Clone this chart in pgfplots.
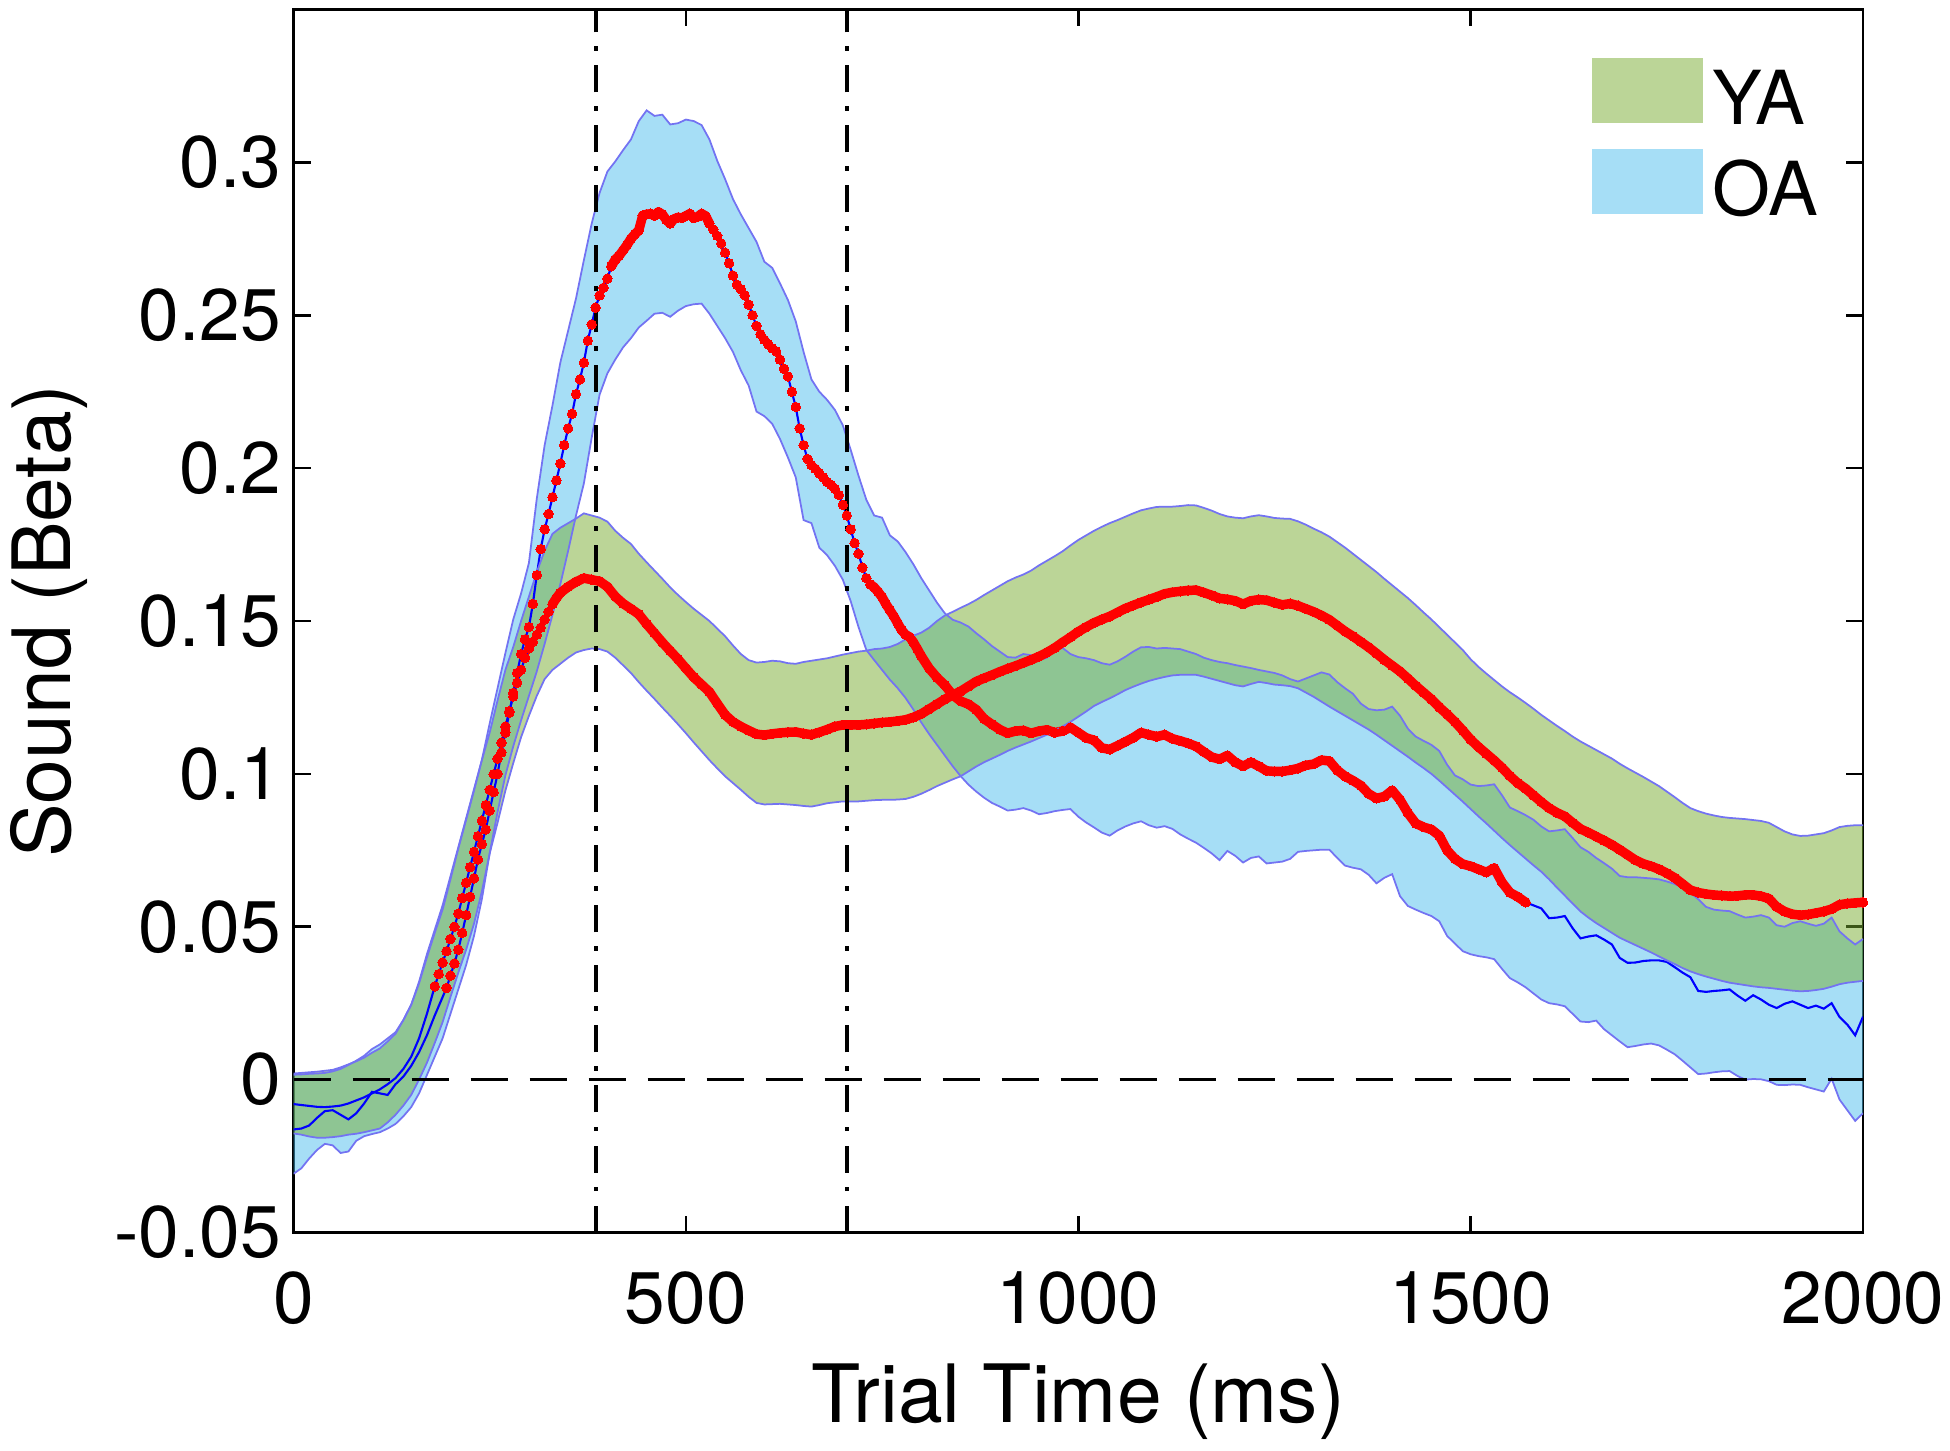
\documentclass[border=0pt]{standalone}
\usepackage{fontspec}
\setmainfont{TeX Gyre Heros}
\usepackage{pgfplots}
\usepackage{pgfplotstable}
\usepgfplotslibrary{fillbetween}
\pgfplotsset{compat=1.18}
\definecolor{yagreen}{rgb}{0.466,0.674,0.188}
\definecolor{oablue}{rgb}{0.301,0.745,0.933}
\definecolor{edgeblue}{RGB}{115,115,242}

\pgfplotstableread{
t yaL yaU oaL oaU
0 -0.0176 0.0020 -0.0308 0.0016
10 -0.0180 0.0022 -0.0290 0.0017
20 -0.0186 0.0024 -0.0258 0.0019
30 -0.0190 0.0026 -0.0230 0.0020
40 -0.0190 0.0029 -0.0210 0.0022
50 -0.0188 0.0032 -0.0215 0.0027
60 -0.0185 0.0040 -0.0240 0.0035
70 -0.0180 0.0050 -0.0235 0.0048
80 -0.0177 0.0060 -0.0200 0.0062
90 -0.0172 0.0072 -0.0185 0.0078
100 -0.0166 0.0088 -0.0178 0.0100
110 -0.0160 0.0102 -0.0172 0.0115
120 -0.0140 0.0125 -0.0160 0.0135
130 -0.0115 0.0150 -0.0145 0.0155
140 -0.0085 0.0195 -0.0120 0.0195
150 -0.0050 0.0245 -0.0090 0.0245
160 0.0000 0.0320 -0.0045 0.0315
170 0.0055 0.0410 0.0015 0.0400
180 0.0120 0.0490 0.0075 0.0480
190 0.0188 0.0570 0.0135 0.0556
200 0.0270 0.0665 0.0215 0.0655
210 0.0350 0.0760 0.0295 0.0756
220 0.0425 0.0855 0.0375 0.0850
230 0.0510 0.0950 0.0470 0.0945
240 0.0615 0.1045 0.0590 0.1045
250 0.0740 0.1135 0.0740 0.1165
260 0.0840 0.1240 0.0875 0.1280
270 0.0945 0.1340 0.0995 0.1395
280 0.1035 0.1415 0.1090 0.1505
290 0.1120 0.1500 0.1175 0.1590
300 0.1190 0.1580 0.1255 0.1690
310 0.1255 0.1660 0.1335 0.1900
320 0.1310 0.1730 0.1425 0.2075
330 0.1340 0.1785 0.1520 0.2205
340 0.1360 0.1805 0.1620 0.2345
350 0.1380 0.1820 0.1730 0.2450
360 0.1397 0.1835 0.1845 0.2555
370 0.1405 0.1852 0.1950 0.2680
380 0.1410 0.1845 0.2100 0.2800
390 0.1408 0.1838 0.2240 0.2900
400 0.1400 0.1825 0.2310 0.2970
410 0.1380 0.1795 0.2355 0.3003
420 0.1355 0.1772 0.2395 0.3040
430 0.1330 0.1752 0.2425 0.3075
440 0.1300 0.1720 0.2460 0.3135
450 0.1272 0.1692 0.2482 0.3170
460 0.1245 0.1665 0.2505 0.3152
470 0.1217 0.1638 0.2508 0.3156
480 0.1190 0.1610 0.2495 0.3124
490 0.1162 0.1585 0.2515 0.3128
500 0.1133 0.1562 0.2530 0.3140
510 0.1103 0.1540 0.2536 0.3135
520 0.1074 0.1520 0.2538 0.3122
530 0.1045 0.1500 0.2505 0.3075
540 0.1018 0.1475 0.2465 0.3005
550 0.0992 0.1450 0.2425 0.2945
560 0.0970 0.1420 0.2380 0.2880
570 0.0948 0.1392 0.2320 0.2830
580 0.0925 0.1372 0.2270 0.2785
590 0.0905 0.1364 0.2185 0.2740
600 0.0900 0.1366 0.2170 0.2675
610 0.0901 0.1370 0.2145 0.2655
620 0.0902 0.1368 0.2095 0.2604
630 0.0900 0.1362 0.2035 0.2550
640 0.0898 0.1360 0.1970 0.2480
650 0.0895 0.1366 0.1830 0.2380
660 0.0893 0.1370 0.1820 0.2290
670 0.0898 0.1374 0.1740 0.2250
680 0.0904 0.1378 0.1715 0.2223
690 0.0907 0.1384 0.1680 0.2190
700 0.0910 0.1390 0.1635 0.2140
710 0.0910 0.1395 0.1565 0.2060
720 0.0910 0.1400 0.1480 0.1975
730 0.0912 0.1403 0.1405 0.1896
740 0.0914 0.1408 0.1372 0.1845
750 0.0915 0.1410 0.1340 0.1838
760 0.0915 0.1415 0.1308 0.1780
770 0.0916 0.1425 0.1280 0.1760
780 0.0918 0.1440 0.1248 0.1725
790 0.0925 0.1452 0.1210 0.1685
800 0.0935 0.1462 0.1168 0.1640
810 0.0947 0.1478 0.1130 0.1600
820 0.0960 0.1500 0.1095 0.1560
830 0.0971 0.1518 0.1060 0.1525
840 0.0982 0.1530 0.1025 0.1504
850 0.0992 0.1543 0.0993 0.1495
860 0.1008 0.1555 0.0965 0.1482
870 0.1024 0.1569 0.0942 0.1460
880 0.1038 0.1585 0.0922 0.1440
890 0.1050 0.1600 0.0905 0.1418
900 0.1062 0.1615 0.0893 0.1400
910 0.1075 0.1630 0.0880 0.1382
920 0.1086 0.1642 0.0883 0.1380
930 0.1096 0.1652 0.0888 0.1392
940 0.1106 0.1665 0.0880 0.1388
950 0.1117 0.1682 0.0868 0.1372
960 0.1128 0.1697 0.0872 0.1380
970 0.1141 0.1712 0.0878 0.1405
980 0.1155 0.1728 0.0882 0.1412
990 0.1170 0.1747 0.0885 0.1392
1000 0.1187 0.1765 0.0860 0.1382
1010 0.1204 0.1780 0.0841 0.1378
1020 0.1222 0.1795 0.0825 0.1372
1030 0.1235 0.1808 0.0808 0.1362
1040 0.1247 0.1820 0.0798 0.1357
1050 0.1260 0.1830 0.0815 0.1368
1060 0.1274 0.1841 0.0828 0.1383
1070 0.1285 0.1852 0.0838 0.1400
1080 0.1295 0.1862 0.0845 0.1414
1090 0.1304 0.1868 0.0832 0.1415
1100 0.1311 0.1873 0.0824 0.1410
1110 0.1317 0.1874 0.0829 0.1412
1120 0.1322 0.1874 0.0820 0.1410
1130 0.1324 0.1876 0.0802 0.1408
1140 0.1324 0.1879 0.0788 0.1400
1150 0.1324 0.1878 0.0775 0.1392
1160 0.1318 0.1870 0.0758 0.1380
1170 0.1311 0.1861 0.0740 0.1372
1180 0.1304 0.1850 0.0718 0.1366
1190 0.1297 0.1842 0.0748 0.1362
1200 0.1290 0.1838 0.0732 0.1356
1210 0.1286 0.1836 0.0710 0.1351
1220 0.1294 0.1842 0.0725 0.1346
1230 0.1301 0.1846 0.0730 0.1340
1240 0.1297 0.1842 0.0707 0.1335
1250 0.1292 0.1837 0.0710 0.1330
1260 0.1290 0.1835 0.0713 0.1322
1270 0.1287 0.1834 0.0722 0.1310
1280 0.1280 0.1826 0.0745 0.1302
1290 0.1266 0.1815 0.0748 0.1312
1300 0.1252 0.1802 0.0750 0.1322
1310 0.1236 0.1790 0.0752 0.1332
1320 0.1220 0.1776 0.0752 0.1325
1330 0.1205 0.1758 0.0725 0.1300
1340 0.1190 0.1740 0.0700 0.1280
1350 0.1175 0.1720 0.0693 0.1262
1360 0.1160 0.1700 0.0688 0.1230
1370 0.1145 0.1680 0.0670 0.1212
1380 0.1128 0.1660 0.0642 0.1208
1390 0.1110 0.1638 0.0660 0.1210
1400 0.1092 0.1617 0.0672 0.1220
1410 0.1074 0.1596 0.0600 0.1190
1420 0.1056 0.1575 0.0568 0.1148
1430 0.1037 0.1552 0.0556 0.1122
1440 0.1019 0.1528 0.0545 0.1108
1450 0.1000 0.1505 0.0535 0.1095
1460 0.0978 0.1480 0.0518 0.1075
1470 0.0955 0.1455 0.0470 0.1030
1480 0.0932 0.1430 0.0445 0.0995
1490 0.0909 0.1405 0.0420 0.0982
1500 0.0885 0.1375 0.0410 0.0965
1510 0.0861 0.1350 0.0404 0.0960
1520 0.0838 0.1328 0.0400 0.0962
1530 0.0814 0.1307 0.0394 0.0966
1540 0.0790 0.1286 0.0362 0.0930
1550 0.0767 0.1267 0.0332 0.0890
1560 0.0745 0.1250 0.0318 0.0878
1570 0.0723 0.1232 0.0302 0.0865
1580 0.0701 0.1213 0.0282 0.0850
1590 0.0680 0.1193 0.0262 0.0828
1600 0.0655 0.1175 0.0250 0.0812
1610 0.0628 0.1157 0.0246 0.0815
1620 0.0602 0.1140 0.0240 0.0819
1630 0.0576 0.1122 0.0215 0.0790
1640 0.0550 0.1106 0.0190 0.0760
1650 0.0530 0.1092 0.0188 0.0745
1660 0.0512 0.1078 0.0193 0.0725
1670 0.0496 0.1064 0.0165 0.0708
1680 0.0480 0.1050 0.0145 0.0690
1690 0.0464 0.1033 0.0125 0.0666
1700 0.0452 0.1018 0.0106 0.0662
1710 0.0440 0.1004 0.0110 0.0662
1720 0.0428 0.0990 0.0115 0.0660
1730 0.0416 0.0975 0.0118 0.0658
1740 0.0403 0.0960 0.0112 0.0655
1750 0.0390 0.0942 0.0098 0.0648
1760 0.0378 0.0924 0.0083 0.0640
1770 0.0365 0.0905 0.0062 0.0628
1780 0.0354 0.0888 0.0040 0.0612
1790 0.0345 0.0878 0.0018 0.0590
1800 0.0337 0.0870 0.0020 0.0565
1810 0.0330 0.0864 0.0024 0.0556
1820 0.0323 0.0859 0.0027 0.0553
1830 0.0317 0.0856 0.0028 0.0551
1840 0.0313 0.0854 0.0012 0.0540
1850 0.0309 0.0852 0.0000 0.0530
1860 0.0305 0.0849 0.0002 0.0533
1870 0.0302 0.0846 0.0001 0.0538
1880 0.0300 0.0840 -0.0005 0.0530
1890 0.0297 0.0826 -0.0017 0.0505
1900 0.0294 0.0812 -0.0018 0.0500
1910 0.0291 0.0802 -0.0016 0.0512
1920 0.0289 0.0797 -0.0017 0.0518
1930 0.0290 0.0798 -0.0025 0.0510
1940 0.0293 0.0802 -0.0032 0.0503
1950 0.0297 0.0806 -0.0039 0.0510
1960 0.0304 0.0815 0.0003 0.0530
1970 0.0312 0.0826 -0.0065 0.0485
1980 0.0317 0.0830 -0.0100 0.0462
1990 0.0320 0.0832 -0.0135 0.0442
2000 0.0323 0.0832 -0.0110 0.0460
}\bands

\pgfplotstableread{
t m
0 -0.0080
10 -0.0083
20 -0.0086
30 -0.0089
40 -0.0090
50 -0.0088
60 -0.0085
70 -0.0078
80 -0.0068
90 -0.0058
100 -0.0045
110 -0.0032
120 -0.0015
130 0.0005
140 0.0035
150 0.0075
160 0.0135
170 0.0215
180 0.0305
185 0.0345
190 0.0383
195 0.0420
200 0.0460
205 0.0500
210 0.0543
215 0.0594
220 0.0644
225 0.0695
230 0.0745
235 0.0796
240 0.0847
245 0.0898
250 0.0948
255 0.0999
260 0.1050
265 0.1102
270 0.1155
275 0.1205
280 0.1253
285 0.1298
290 0.1340
295 0.1380
300 0.1410
305 0.1432
310 0.1455
315 0.1478
320 0.1505
325 0.1530
330 0.1555
335 0.1575
340 0.1592
350 0.1612
360 0.1628
370 0.1640
380 0.1635
390 0.1630
400 0.1612
410 0.1580
420 0.1557
430 0.1540
440 0.1522
450 0.1490
460 0.1460
470 0.1430
480 0.1402
490 0.1375
500 0.1345
510 0.1316
520 0.1292
530 0.1268
540 0.1230
550 0.1193
560 0.1170
570 0.1155
580 0.1142
590 0.1130
600 0.1127
610 0.1131
620 0.1134
630 0.1136
640 0.1137
650 0.1132
660 0.1128
670 0.1136
680 0.1145
690 0.1155
700 0.1160
710 0.1160
720 0.1160
730 0.1162
740 0.1165
750 0.1168
760 0.1170
770 0.1173
780 0.1177
790 0.1185
800 0.1196
810 0.1212
820 0.1228
830 0.1244
840 0.1258
850 0.1270
860 0.1286
870 0.1302
880 0.1313
890 0.1323
900 0.1334
910 0.1344
920 0.1353
930 0.1363
940 0.1373
950 0.1384
960 0.1397
970 0.1412
980 0.1430
990 0.1447
1000 0.1465
1010 0.1480
1020 0.1494
1030 0.1505
1040 0.1515
1050 0.1528
1060 0.1541
1070 0.1551
1080 0.1561
1090 0.1570
1100 0.1579
1110 0.1589
1120 0.1594
1130 0.1597
1140 0.1600
1150 0.1601
1160 0.1593
1170 0.1584
1180 0.1574
1190 0.1571
1200 0.1566
1210 0.1555
1220 0.1566
1230 0.1570
1240 0.1568
1250 0.1560
1260 0.1553
1270 0.1557
1280 0.1550
1290 0.1540
1300 0.1530
1310 0.1518
1320 0.1504
1330 0.1485
1340 0.1466
1350 0.1450
1360 0.1432
1370 0.1414
1380 0.1394
1390 0.1373
1400 0.1354
1410 0.1335
1420 0.1312
1430 0.1288
1440 0.1266
1450 0.1244
1460 0.1218
1470 0.1195
1480 0.1170
1490 0.1142
1500 0.1112
1510 0.1088
1520 0.1066
1530 0.1044
1540 0.1020
1550 0.0993
1560 0.0970
1570 0.0952
1580 0.0930
1590 0.0908
1600 0.0888
1610 0.0873
1620 0.0861
1630 0.0840
1640 0.0820
1650 0.0808
1660 0.0795
1670 0.0782
1680 0.0768
1690 0.0752
1700 0.0735
1710 0.0718
1720 0.0706
1730 0.0698
1740 0.0688
1750 0.0675
1760 0.0660
1770 0.0640
1780 0.0620
1790 0.0612
1800 0.0607
1810 0.0604
1820 0.0602
1830 0.0600
1840 0.0601
1850 0.0604
1860 0.0604
1870 0.0600
1880 0.0592
1890 0.0565
1900 0.0550
1910 0.0541
1920 0.0538
1930 0.0540
1940 0.0545
1950 0.0550
1960 0.0558
1970 0.0572
1980 0.0576
1990 0.0578
2000 0.0580
}\yam

\pgfplotstableread{
t m
0 -0.0163
10 -0.0160
20 -0.0150
30 -0.0125
40 -0.0103
50 -0.0100
60 -0.0115
70 -0.0130
80 -0.0110
90 -0.0078
100 -0.0040
110 -0.0045
120 -0.0050
130 -0.0015
140 0.0010
150 0.0045
160 0.0090
170 0.0145
180 0.0210
190 0.0270
195 0.0300
200 0.0340
205 0.0380
210 0.0425
215 0.0480
220 0.0538
225 0.0598
230 0.0658
235 0.0720
240 0.0770
245 0.0818
250 0.0880
255 0.0940
260 0.1000
265 0.1070
270 0.1135
275 0.1200
280 0.1265
285 0.1330
290 0.1392
295 0.1440
300 0.1480
305 0.1556
310 0.1650
315 0.1735
320 0.1800
325 0.1850
330 0.1905
335 0.1960
340 0.2015
345 0.2075
350 0.2130
355 0.2178
360 0.2242
365 0.2290
370 0.2345
375 0.2417
380 0.2470
385 0.2525
390 0.2565
395 0.2590
400 0.2620
405 0.2660
410 0.2682
415 0.2695
420 0.2712
425 0.2730
430 0.2750
435 0.2765
440 0.2778
445 0.2826
450 0.2830
455 0.2832
460 0.2825
465 0.2838
470 0.2830
475 0.2812
480 0.2800
485 0.2815
490 0.2820
495 0.2818
500 0.2825
505 0.2832
510 0.2818
515 0.2822
520 0.2832
525 0.2825
530 0.2800
535 0.2780
540 0.2760
545 0.2735
550 0.2705
555 0.2670
560 0.2630
565 0.2600
570 0.2585
575 0.2565
580 0.2535
585 0.2500
590 0.2465
595 0.2438
600 0.2420
605 0.2405
610 0.2392
615 0.2382
620 0.2355
625 0.2325
630 0.2300
635 0.2250
640 0.2200
645 0.2130
650 0.2075
655 0.2030
660 0.2010
665 0.1998
670 0.1983
675 0.1970
680 0.1955
685 0.1945
690 0.1932
695 0.1912
700 0.1880
705 0.1845
710 0.1800
715 0.1755
720 0.1720
725 0.1675
730 0.1640
735 0.1620
740 0.1610
745 0.1595
750 0.1578
755 0.1555
760 0.1535
765 0.1515
770 0.1492
775 0.1470
780 0.1455
785 0.1448
790 0.1430
795 0.1408
800 0.1385
810 0.1345
820 0.1315
830 0.1290
840 0.1258
850 0.1238
860 0.1228
870 0.1210
880 0.1180
890 0.1162
900 0.1145
910 0.1133
920 0.1140
930 0.1142
940 0.1133
950 0.1140
960 0.1144
970 0.1135
980 0.1140
990 0.1152
1000 0.1135
1010 0.1118
1020 0.1110
1030 0.1085
1040 0.1080
1050 0.1092
1060 0.1105
1070 0.1118
1080 0.1135
1090 0.1128
1100 0.1122
1110 0.1128
1120 0.1115
1130 0.1108
1140 0.1100
1150 0.1090
1160 0.1072
1170 0.1055
1180 0.1048
1190 0.1060
1200 0.1038
1210 0.1025
1220 0.1038
1230 0.1025
1240 0.1010
1250 0.1008
1260 0.1008
1270 0.1012
1280 0.1018
1290 0.1028
1300 0.1032
1310 0.1045
1320 0.1042
1330 0.1012
1340 0.0992
1350 0.0978
1360 0.0962
1370 0.0935
1380 0.0920
1390 0.0926
1400 0.0946
1410 0.0915
1420 0.0872
1430 0.0838
1440 0.0826
1450 0.0818
1460 0.0798
1470 0.0750
1480 0.0722
1490 0.0705
1500 0.0698
1510 0.0688
1520 0.0678
1530 0.0692
1540 0.0645
1550 0.0612
1560 0.0598
1570 0.0580
1580 0.0570
1590 0.0560
1600 0.0528
1610 0.0530
1620 0.0535
1630 0.0495
1640 0.0462
1650 0.0468
1660 0.0472
1670 0.0458
1680 0.0442
1690 0.0398
1700 0.0382
1710 0.0383
1720 0.0388
1730 0.0390
1740 0.0390
1750 0.0385
1760 0.0368
1770 0.0350
1780 0.0335
1790 0.0290
1800 0.0287
1810 0.0290
1820 0.0292
1830 0.0295
1840 0.0275
1850 0.0258
1860 0.0276
1870 0.0262
1880 0.0245
1890 0.0234
1900 0.0248
1910 0.0256
1920 0.0245
1930 0.0234
1940 0.0242
1950 0.0232
1960 0.0250
1970 0.0205
1980 0.0180
1990 0.0145
2000 0.0206
}\oam

\pgfplotsset{
  sigmarks/.style={red, only marks, mark=*, mark size=1.35pt,
    mark options={solid, draw=red, fill=red, line width=0pt}, forget plot},
  sigline/.style={red, line width=2.7pt, line join=round, line cap=round, forget plot},
}

\begin{document}
\begin{tikzpicture}
\begin{axis}[
  scale only axis, width=156.95mm, height=122.3mm,
  xmin=0, xmax=2000, ymin=-0.05, ymax=0.35,
  xtick={0,500,1000,1500,2000}, xticklabels={0,500,1000,1500,2000},
  ytick={-0.05,0,0.05,0.1,0.15,0.2,0.25,0.3},
  yticklabels={-0.05,0,0.05,0.1,0.15,0.2,0.25,0.3},
  tick align=inside, major tick length=1.7mm,
  axis line style={line width=0.75pt},
  every tick/.style={line width=0.75pt, black},
  tick label style={font=\fontsize{20.8}{24}\selectfont},
  xticklabel style={yshift=-2.65mm},
  xlabel={Trial Time (ms)}, ylabel={Sound (Beta)},
  label style={font=\fontsize{22.9}{27}\selectfont},
  xlabel style={at={(axis description cs:0.5,-0.155)}, anchor=base},
  ylabel style={at={(axis description cs:-0.1418,0.5)}, anchor=base},
  legend style={at={(axis description cs:0.8273,0.9604)}, anchor=north west,
    draw=none, fill=none, inner sep=0pt, outer sep=0pt,
    nodes={inner sep=0pt, text depth=0pt},
    font=\fontsize{21.2}{25}\selectfont, row sep=2.5mm, column sep=1mm},
  legend cell align=left,
]
\addlegendimage{draw=none, legend image code/.code={\path[fill=yagreen, fill opacity=0.5, draw=none] (0mm,-2.6mm) rectangle (11.1mm,3.9mm);}}
\addlegendentry{YA}
\addlegendimage{draw=none, legend image code/.code={\path[fill=oablue, fill opacity=0.5, draw=none] (0mm,-2.6mm) rectangle (11.1mm,3.9mm);}}
\addlegendentry{OA}

% OA band
\addplot[name path=oaU, draw=none, forget plot] table[x=t,y=oaU]{\bands};
\addplot[name path=oaL, draw=none, forget plot] table[x=t,y=oaL]{\bands};
\addplot[fill=oablue, fill opacity=0.5, draw=none, forget plot] fill between[of=oaU and oaL];
\addplot[draw=edgeblue, line width=0.5pt, forget plot] table[x=t,y=oaU]{\bands};
\addplot[draw=edgeblue, line width=0.5pt, forget plot] table[x=t,y=oaL]{\bands};
% OA mean
\addplot[blue, line width=0.6pt, forget plot] table[x=t,y=m]{\oam};
\addplot[sigline, restrict x to domain=405:530] table[x=t,y=m]{\oam};
\addplot[sigline, restrict x to domain=735:1572] table[x=t,y=m]{\oam};
\addplot[sigmarks, restrict x to domain=195:1572] table[x=t,y=m]{\oam};

% YA band
\addplot[name path=yaU, draw=none, forget plot] table[x=t,y=yaU]{\bands};
\addplot[name path=yaL, draw=none, forget plot] table[x=t,y=yaL]{\bands};
\addplot[fill=yagreen, fill opacity=0.5, draw=none, forget plot] fill between[of=yaU and yaL];
\addplot[draw=edgeblue, line width=0.5pt, forget plot] table[x=t,y=yaU]{\bands};
\addplot[draw=edgeblue, line width=0.5pt, forget plot] table[x=t,y=yaL]{\bands};
% YA mean
\addplot[blue, line width=0.6pt, forget plot] table[x=t,y=m]{\yam};
\addplot[sigline, restrict x to domain=330:2000] table[x=t,y=m]{\yam};
\addplot[sigmarks, restrict x to domain=180:2000] table[x=t,y=m]{\yam};

% reference lines
\addplot[black, line width=1pt, dash pattern=on 3.7mm off 2.2mm, forget plot] coordinates {(0,0) (2000,0)};
\addplot[black, line width=1.1pt, dash pattern=on 2.7mm off 1.45mm on 0.45mm off 1.4mm, forget plot] coordinates {(385,-0.05) (385,0.35)};
\addplot[black, line width=1.1pt, dash pattern=on 2.7mm off 1.45mm on 0.45mm off 1.4mm, forget plot] coordinates {(705,-0.05) (705,0.35)};
\end{axis}
\pgfresetboundingbox
\path ([shift={(-29.35mm,-21.75mm)}]current axis.south west) rectangle ([shift={(8.7mm,0.95mm)}]current axis.north east);
\end{tikzpicture}
\end{document}
